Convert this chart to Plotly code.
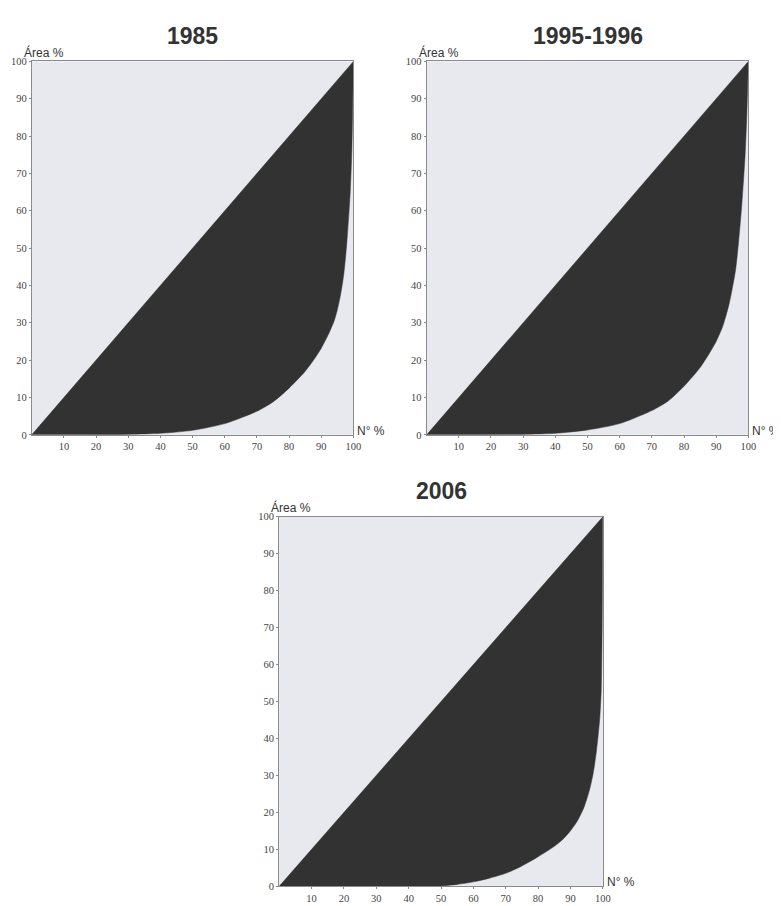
import plotly.graph_objects as go

W, H = 781, 906

titles = ["1985", "1995-1996", "2006"]

# Lorenz curves (N° % cumulative vs Área % cumulative)
x_1985 = [0, 30, 40, 50, 60, 70, 75, 80, 85, 88, 90, 92, 94, 95, 96, 97, 98, 99, 99.5, 100]
y_1985 = [0, 0.1, 0.4, 1.2, 3, 6.3, 8.8, 12.5, 17, 20.5, 23.2, 26.5, 30.5, 33.5, 37.5, 43, 52, 65, 76, 100]

x_1995 = [0, 30, 40, 50, 60, 70, 75, 80, 85, 88, 90, 92, 94, 96, 97, 98, 99, 99.5, 100]
y_1995 = [0, 0.1, 0.4, 1.3, 3, 6.5, 9, 13, 18, 22, 25, 29, 35, 44, 52, 62, 75, 85, 100]

x_2006 = [0, 40, 50, 55, 60, 65, 70, 75, 80, 85, 88, 90, 92, 94, 95, 96, 97, 98, 99, 99.5, 99.8, 100]
y_2006 = [0, 0, 0.1, 0.5, 1.2, 2.2, 3.5, 5.5, 8, 10.8, 13, 15, 17.5, 21, 23.5, 26.5, 30.5, 36.5, 45, 53, 70, 100]

equality_x = [0, 100]
equality_y = [0, 100]

x_ticks = [10, 20, 30, 40, 50, 60, 70, 80, 90, 100]
y_ticks = [0, 10, 20, 30, 40, 50, 60, 70, 80, 90, 100]

curves = [(x_1985, y_1985), (x_1995, y_1995), (x_2006, y_2006)]

# panel pixel boxes: left, right, top, bottom
boxes = [(24, 349, 49, 427), (423, 748, 49, 427), (274, 601, 510, 884)]

fig = go.Figure()

axis_common = dict(range=[0, 100], showgrid=False, zeroline=False, showline=True,
                   linecolor="#8a8a8a", linewidth=1, mirror=True, ticks="outside",
                   ticklen=2, tickcolor="#8a8a8a",
                   tickfont=dict(family="Liberation Serif", size=10.5, color="#444444"),
                   fixedrange=True)

annotations = []
for i, ((cx, cy), (l, r, t, b), title) in enumerate(zip(curves, boxes, titles)):
    n = i + 1
    xa = "x" if n == 1 else f"x{n}"
    ya = "y" if n == 1 else f"y{n}"
    fig.add_trace(go.Scatter(x=equality_x, y=equality_y, mode="lines",
                             line=dict(color="#323232", width=0.5),
                             xaxis=xa, yaxis=ya, showlegend=False, hoverinfo="skip"))
    fig.add_trace(go.Scatter(x=cx, y=cy, mode="lines", fill="tonexty",
                             fillcolor="#323232",
                             line=dict(color="#323232", width=0.5, shape="spline", smoothing=0.7),
                             xaxis=xa, yaxis=ya, showlegend=False, hoverinfo="skip"))
    xkey = "xaxis" if n == 1 else f"xaxis{n}"
    ykey = "yaxis" if n == 1 else f"yaxis{n}"
    fig.update_layout(**{
        xkey: dict(axis_common, domain=[l / W, r / W], anchor=ya,
                   tickvals=x_ticks, ticktext=[str(v) for v in x_ticks]),
        ykey: dict(axis_common, domain=[1 - b / H, 1 - t / H], anchor=xa,
                   tickvals=y_ticks, ticktext=[str(v) for v in y_ticks]),
    })
    # title
    annotations.append(dict(text=f"<b>{title}</b>", xref="paper", yref="paper",
                            x=(l + r) / 2 / W, y=1 - (t - 26) / H,
                            xanchor="center", yanchor="middle", showarrow=False,
                            font=dict(family="Liberation Sans", size=23, color="#333333")))
    # y label
    annotations.append(dict(text="Área %", xref="paper", yref="paper",
                            x=(l - 10) / W, y=1 - (t - 9) / H,
                            xanchor="left", yanchor="middle", showarrow=False,
                            font=dict(family="Liberation Sans", size=12, color="#333333")))
    # x label
    annotations.append(dict(text="N° %", xref="paper", yref="paper",
                            x=(r + 2) / W, y=1 - (b - 4) / H,
                            xanchor="left", yanchor="middle", showarrow=False,
                            font=dict(family="Liberation Sans", size=12, color="#333333")))

fig.update_layout(width=W, height=H, margin=dict(l=0, r=0, t=0, b=0),
                  paper_bgcolor="white", plot_bgcolor="#e8e9ee",
                  annotations=annotations, showlegend=False)

fig.write_html("out.html")
